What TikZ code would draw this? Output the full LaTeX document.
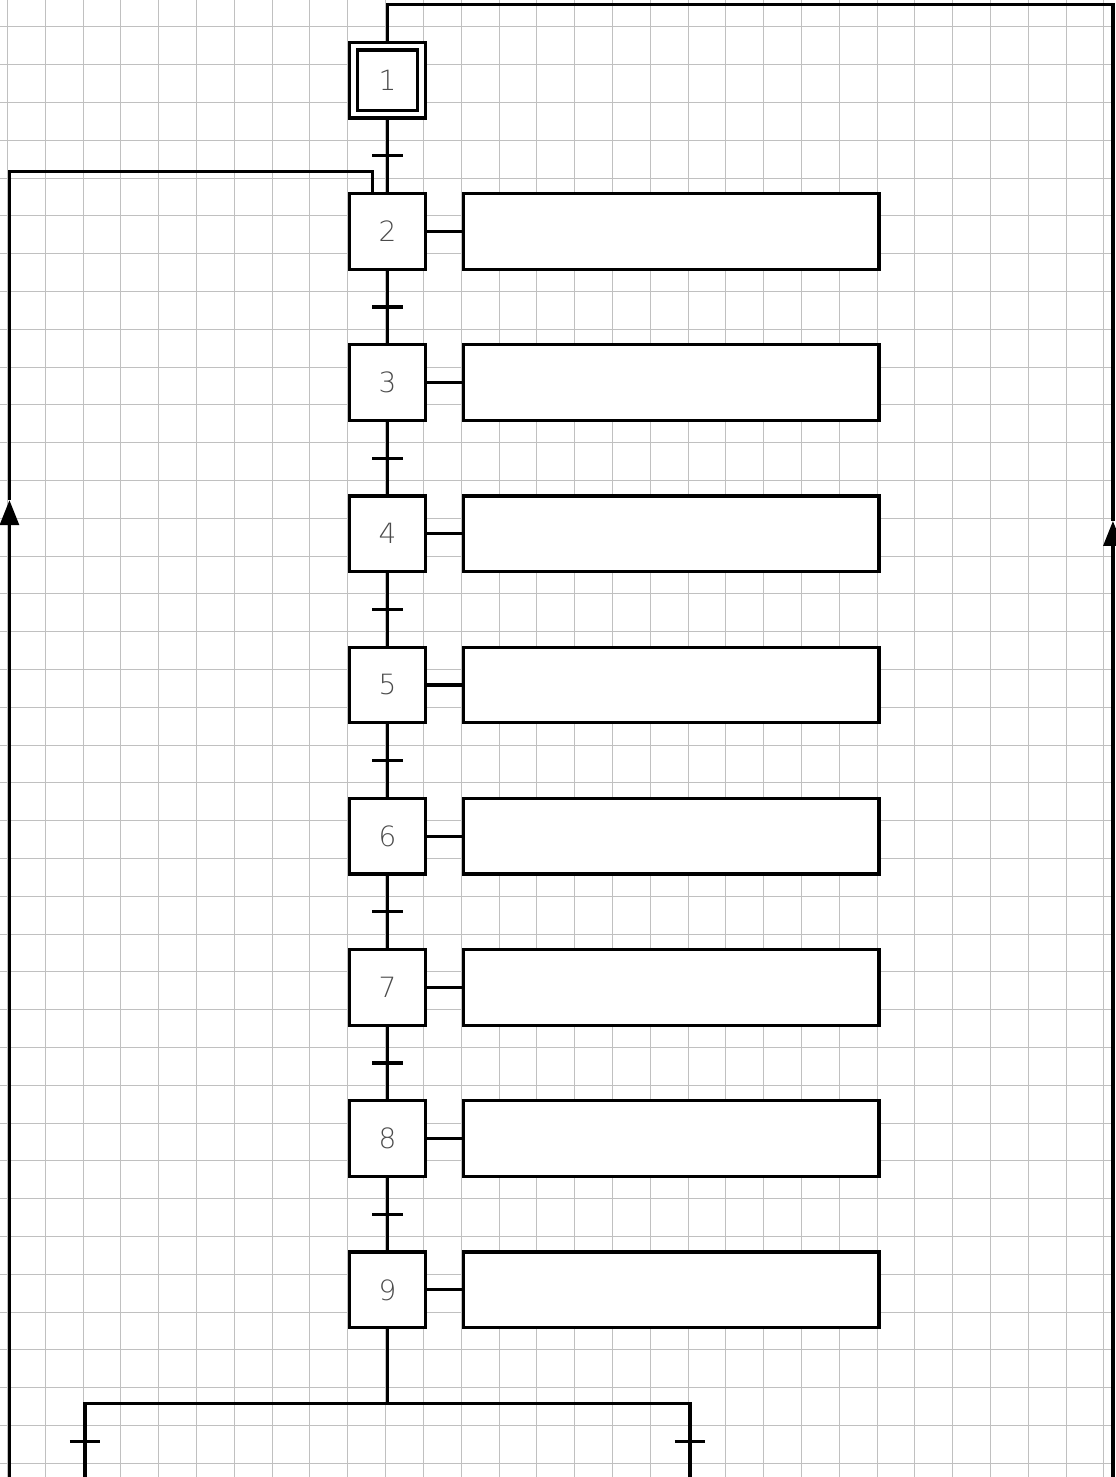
\documentclass[tikz,border=0pt]{standalone}
\usepackage{fontspec}
\newfontfamily\stepfont{DejaVu Sans ExtraLight}
\usepackage{tikz}
\usetikzlibrary{positioning, calc}
\usetikzlibrary{arrows.meta}
\usepackage{xcolor}
\definecolor{gridgray}{RGB}{192,192,192}
\definecolor{labelgray}{RGB}{75,75,75}

\begin{document}
\begin{tikzpicture}[
                stepbox/.style={rectangle, draw, line width=2.4pt, fill=white, minimum size=2cm, inner sep=0pt, outer sep=0pt, text=labelgray, font=\stepfont\fontsize{21}{24}\selectfont},
                stepinner/.style={rectangle, draw, line width=2.4pt, minimum size=1.6cm, inner sep=0pt, outer sep=0pt},
                action/.style={rectangle, draw, line width=2.4pt, fill=white, minimum width=11cm, minimum height=2cm, inner sep=0pt, outer sep=0pt},
                line/.style={draw, line width=2.4pt},
                transbar/.style={draw, line width=2.4pt},
                flow/.style={draw, line width=2.4pt, -{Triangle[length=6.6mm, width=5mm]}},
                gridline/.style={draw=gridgray, line width=0.75pt}
            ]
                \useasboundingbox (0,0) rectangle (29.5,-39.07);
                % Background grid
                \path[gridline, xshift=0.2cm, yshift=-0.71cm] (-0.2,0.71) grid (29.3,-38.36);

                % Steps
                \node[stepbox] (s1) at (10.25,-2.12) {1};
                \node[stepinner] (s1in) at (s1) {};
                \node[stepbox, below=2cm of s1] (s2) {2};
                \node[stepbox, below=2cm of s2] (s3) {3};
                \node[stepbox, below=2cm of s3] (s4) {4};
                \node[stepbox, below=2cm of s4] (s5) {5};
                \node[stepbox, below=2cm of s5] (s6) {6};
                \node[stepbox, below=2cm of s6] (s7) {7};
                \node[stepbox, below=2cm of s7] (s8) {8};
                \node[stepbox, below=2cm of s8] (s9) {9};

                % Actions
                \node[action, right=1cm of s2] (a2) {};
                \node[action, right=1cm of s3] (a3) {};
                \node[action, right=1cm of s4] (a4) {};
                \node[action, right=1cm of s5] (a5) {};
                \node[action, right=1cm of s6] (a6) {};
                \node[action, right=1cm of s7] (a7) {};
                \node[action, right=1cm of s8] (a8) {};
                \node[action, right=1cm of s9] (a9) {};

                \path[line] (s2) -- (a2);
                \path[line] (s3) -- (a3);
                \path[line] (s4) -- (a4);
                \path[line] (s5) -- (a5);
                \path[line] (s6) -- (a6);
                \path[line] (s7) -- (a7);
                \path[line] (s8) -- (a8);
                \path[line] (s9) -- (a9);

                % Links and transitions
                \path[line] (s1) -- (s2);
                \path[line] (s2) -- (s3);
                \path[line] (s3) -- (s4);
                \path[line] (s4) -- (s5);
                \path[line] (s5) -- (s6);
                \path[line] (s6) -- (s7);
                \path[line] (s7) -- (s8);
                \path[line] (s8) -- (s9);
                \path[transbar] ($(s1.south)!0.5!(s2.north)$) ++(-4mm,0) -- ++(8mm,0);
                \path[transbar] ($(s2.south)!0.5!(s3.north)$) ++(-4mm,0) -- ++(8mm,0);
                \path[transbar] ($(s3.south)!0.5!(s4.north)$) ++(-4mm,0) -- ++(8mm,0);
                \path[transbar] ($(s4.south)!0.5!(s5.north)$) ++(-4mm,0) -- ++(8mm,0);
                \path[transbar] ($(s5.south)!0.5!(s6.north)$) ++(-4mm,0) -- ++(8mm,0);
                \path[transbar] ($(s6.south)!0.5!(s7.north)$) ++(-4mm,0) -- ++(8mm,0);
                \path[transbar] ($(s7.south)!0.5!(s8.north)$) ++(-4mm,0) -- ++(8mm,0);
                \path[transbar] ($(s8.south)!0.5!(s9.north)$) ++(-4mm,0) -- ++(8mm,0);

                % Loop back to step 1
                \coordinate (rtop) at (29.44,-0.12);
                \coordinate (rarr) at (29.44,-13.78);
                \coordinate (rbot) at (29.44,-39.07);
                \path[flow] (rbot) -- (rarr);
                \path[line] (rarr) -- (rtop) -| (s1.north);

                % Loop back to step 2
                \coordinate (ltop) at (0.25,-4.53);
                \coordinate (larr) at (0.25,-13.23);
                \coordinate (lbot) at (0.25,-39.07);
                \path[flow] (lbot) -- (larr);
                \path[line] (larr) -- (ltop) -| ([xshift=-4mm]s2.north);

                % Divergence after step 9
                \coordinate[below=2cm of s9] (join);
                \coordinate[left=8cm of join] (jl);
                \coordinate[right=8cm of join] (jr);
                \coordinate (jlbot) at (jl |- lbot);
                \coordinate (jrbot) at (jr |- lbot);
                \path[line] (s9) -- (join);
                \path[line] (jlbot) -- (jl) -- (jr) -- (jrbot);
                \path[transbar] ([yshift=-1cm]jl) ++(-4mm,0) -- ++(8mm,0);
                \path[transbar] ([yshift=-1cm]jr) ++(-4mm,0) -- ++(8mm,0);
            \end{tikzpicture}
\end{document}
